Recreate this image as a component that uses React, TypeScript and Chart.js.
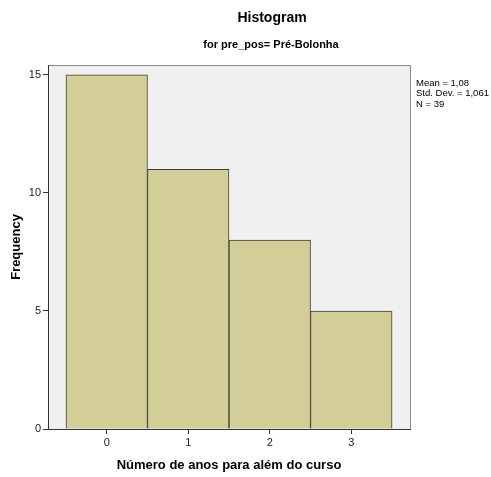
import React, { useEffect, useRef } from "react";
import { Chart, registerables } from "chart.js";

Chart.register(...registerables);

const binCenters = [0, 1, 2, 3];
const frequencies = [15, 11, 8, 5];
const yTicks = [0, 5, 10, 15];
const xTicks = [0, 1, 2, 3];
const titleText = "Histogram";
const subtitleText = "for pre_pos= Pré-Bolonha";
const xTitle = "Número de anos para além do curso";
const yTitle = "Frequency";
const statsLines = ["Mean = 1,08", "Std. Dev. = 1,061", "N = 39"];

const FONT = "'Liberation Sans', Arial, sans-serif";

const decorPlugin = {
  id: "decor",
  beforeDraw(chart: any) {
    const { ctx, chartArea } = chart;
    const { left, top, right, bottom } = chartArea;
    ctx.save();
    ctx.fillStyle = "#f0f0f0";
    ctx.fillRect(left, top, right - left, bottom - top);
    ctx.strokeStyle = "#8a8a8a";
    ctx.lineWidth = 1;
    ctx.beginPath();
    ctx.moveTo(left, top + 0.5);
    ctx.lineTo(right + 0.5, top + 0.5);
    ctx.lineTo(right + 0.5, bottom);
    ctx.stroke();
    ctx.restore();
  },
  afterDraw(chart: any) {
    const { ctx, chartArea } = chart;
    const { left, right, top, bottom } = chartArea;
    const cx = (left + right) / 2;
    ctx.save();
    ctx.fillStyle = "#000";
    ctx.textAlign = "center";
    ctx.textBaseline = "middle";
    ctx.font = `bold 14px ${FONT}`;
    ctx.fillText(titleText, 272, 18);
    ctx.font = `bold 11px ${FONT}`;
    ctx.fillText(subtitleText, 271, 45);
    ctx.font = `bold 13px ${FONT}`;
    ctx.fillText(xTitle, cx, 465);
    ctx.save();
    ctx.translate(16, (top + bottom) / 2);
    ctx.rotate(-Math.PI / 2);
    ctx.fillText(yTitle, 0, 0);
    ctx.restore();
    ctx.textAlign = "left";
    ctx.font = `9.5px ${FONT}`;
    statsLines.forEach((s, i) => {
      ctx.fillText(s, right + 6, 83 + i * 10.5);
    });
    ctx.restore();
  },
};

export default function App() {
  const ref = useRef<HTMLCanvasElement | null>(null);
  useEffect(() => {
    document.body.style.margin = "0";
    const chart = new Chart(ref.current as HTMLCanvasElement, {
      type: "bar",
      data: {
        datasets: [
          {
            data: binCenters.map((x, i) => ({ x, y: frequencies[i] })),
            backgroundColor: "#d3ce98",
            borderColor: "#3f3f34",
            borderWidth: 1,
            barPercentage: 1,
            categoryPercentage: 1,
          },
        ],
      },
      options: {
        animation: false,
        responsive: false,
        maintainAspectRatio: false,
        layout: { padding: { left: 0, right: 81, top: 65, bottom: 0 } },
        plugins: { legend: { display: false }, tooltip: { enabled: false }, title: { display: false } },
        scales: {
          x: {
            type: "linear",
            min: -0.72,
            max: 3.72,
            offset: false,
            afterFit: (s: any) => {
              s.height = 48;
            },
            afterBuildTicks: (s: any) => {
              s.ticks = xTicks.map((v) => ({ value: v }));
            },
            ticks: {
              font: { family: FONT, size: 11 },
              color: "#222",
              padding: 2,
              maxRotation: 0,
            },
            grid: { display: true, offset: false, drawOnChartArea: false, drawTicks: true, tickLength: 5, color: "#333" },
            border: { display: true, color: "#333", width: 1 },
          },
          y: {
            type: "linear",
            min: 0,
            max: 15.42,
            afterFit: (s: any) => {
              s.width = 48;
            },
            afterBuildTicks: (s: any) => {
              s.ticks = yTicks.map((v) => ({ value: v }));
            },
            ticks: {
              font: { family: FONT, size: 11 },
              color: "#222",
              padding: 2,
            },
            grid: { display: true, drawOnChartArea: false, drawTicks: true, tickLength: 5, color: "#333" },
            border: { display: true, color: "#333", width: 1 },
          },
        },
      },
      plugins: [decorPlugin],
    } as any);
    return () => chart.destroy();
  }, []);
  return (
    <div style={{ position: "absolute", left: 0, top: 0, width: 491, height: 477 }}>
      <canvas ref={ref} width={491} height={477} style={{ width: 491, height: 477 }} />
    </div>
  );
}
